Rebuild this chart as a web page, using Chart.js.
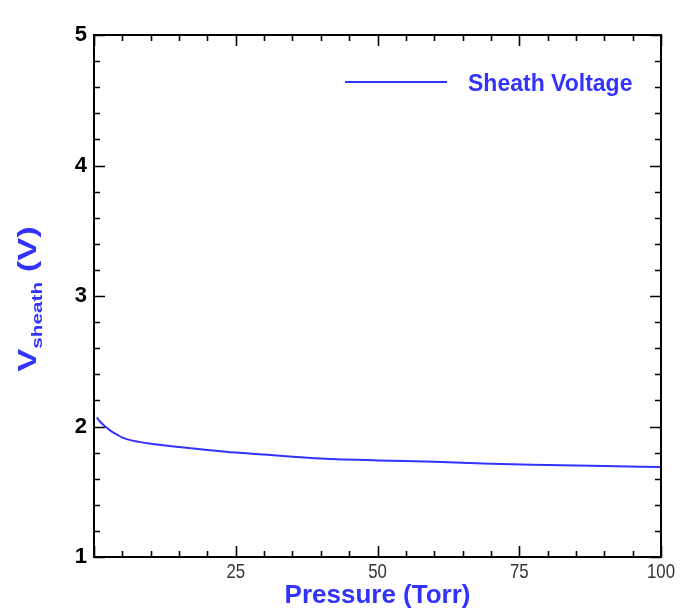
<!DOCTYPE html>
<html>
<head>
<meta charset="utf-8">
<script src="https://cdn.jsdelivr.net/npm/chart.js@4.4.1/dist/chart.umd.min.js"></script>
<style>
  html, body { margin: 0; padding: 0; background: #fff; }
  #wrap { width: 682px; height: 612px; }
</style>
</head>
<body>
<div id="wrap"><canvas id="c" width="682" height="612"></canvas></div>
<script>
// pressure (Torr) and sheath voltage (V)
const pressure = [0.5, 1, 2, 3, 4, 5, 7, 10, 15, 20, 25, 30, 35, 40, 50, 60, 70, 80, 90, 100];
const vSheath  = [2.07, 2.04, 2.0, 1.965, 1.94, 1.915, 1.89, 1.868, 1.843, 1.82, 1.80, 1.785, 1.768, 1.755, 1.74, 1.73, 1.714, 1.705, 1.697, 1.69];
const xTicks = [0, 25, 50, 75, 100];
const yTicks = [1, 2, 3, 4, 5];
const seriesName = 'Sheath Voltage';

const BLUE = '#3333ff';
const FONT = '"Liberation Sans", Arial, sans-serif';

// frame, inward ticks on all sides, narrow x labels, legend and axis titles
const decor = {
  id: 'decor',
  afterDraw(chart) {
    const ctx = chart.ctx;
    const a = chart.chartArea;
    const xs = chart.scales.x, ys = chart.scales.y;
    ctx.save();
    ctx.strokeStyle = '#000';
    ctx.lineWidth = 2;
    ctx.strokeRect(a.left, a.top, a.right - a.left, a.bottom - a.top);

    ctx.beginPath();
    for (let v = 0; v <= 100; v += 5) {
      const px = Math.round(xs.getPixelForValue(v)) + 0.5;
      const len = v % 25 === 0 ? 11 : 6;
      ctx.moveTo(px, a.bottom); ctx.lineTo(px, a.bottom - len);
      ctx.moveTo(px, a.top); ctx.lineTo(px, a.top + len);
    }
    for (let i = 0; i <= 20; i++) {
      const v = 1 + i * 0.2;
      const py = Math.round(ys.getPixelForValue(v)) + 0.5;
      const len = i % 5 === 0 ? 11 : 6;
      ctx.moveTo(a.left, py); ctx.lineTo(a.left + len, py);
      ctx.moveTo(a.right, py); ctx.lineTo(a.right - len, py);
    }
    ctx.lineWidth = 1.6;
    ctx.stroke();

    // x tick labels, condensed like the original
    ctx.fillStyle = '#333';
    ctx.font = '21px ' + FONT;
    ctx.textAlign = 'center';
    ctx.textBaseline = 'alphabetic';
    xTicks.filter(v => v !== 0).forEach(v => {
      ctx.save();
      ctx.translate(xs.getPixelForValue(v), 578);
      ctx.scale(0.8, 1);
      ctx.fillText(String(v), 0, 0);
      ctx.restore();
    });

    // legend
    ctx.strokeStyle = BLUE;
    ctx.lineWidth = 2;
    ctx.beginPath();
    ctx.moveTo(345, 82); ctx.lineTo(447, 82);
    ctx.stroke();
    ctx.fillStyle = BLUE;
    ctx.font = 'bold 23px ' + FONT;
    ctx.textAlign = 'left';
    ctx.fillText(seriesName, 468, 91);

    // x title
    ctx.font = 'bold 26px ' + FONT;
    ctx.textAlign = 'center';
    ctx.fillText('Pressure (Torr)', (a.left + a.right) / 2, 603);

    // y title with subscript (stretched along the text like the original)
    ctx.translate(36, 299);
    ctx.rotate(-Math.PI / 2);
    ctx.scale(1.38, 1);
    const big = 'bold 25px ' + FONT, small = 'bold 15px ' + FONT;
    ctx.font = big; const w1 = ctx.measureText('V').width;
    ctx.font = small; const w2 = ctx.measureText('sheath').width;
    ctx.font = big; const w3 = ctx.measureText(' (V)').width;
    let x0 = -(w1 + w2 + w3) / 2;
    ctx.textAlign = 'left';
    ctx.font = big; ctx.fillText('V', x0, 0); x0 += w1;
    ctx.font = small; ctx.fillText('sheath', x0, 6); x0 += w2;
    ctx.font = big; ctx.fillText(' (V)', x0, 0);
    ctx.restore();
  }
};

new Chart(document.getElementById('c'), {
  type: 'line',
  data: {
    datasets: [{
      label: seriesName,
      data: pressure.map((p, i) => ({ x: p, y: vSheath[i] })),
      borderColor: BLUE,
      borderWidth: 2,
      pointRadius: 0,
      cubicInterpolationMode: 'monotone',
      fill: false
    }]
  },
  options: {
    responsive: false,
    animation: false,
    layout: { padding: { top: 35, right: 21, left: 0, bottom: 0 } },
    plugins: { legend: { display: false }, tooltip: { enabled: false } },
    scales: {
      x: {
        type: 'linear', min: 0, max: 100,
        afterBuildTicks: s => { s.ticks = xTicks.map(v => ({ value: v })); },
        afterFit: s => { s.height = 55; },
        grid: { display: false, drawTicks: false },
        border: { display: false },
        ticks: { display: false }
      },
      y: {
        type: 'linear', min: 1, max: 5,
        afterBuildTicks: s => { s.ticks = yTicks.map(v => ({ value: v })); },
        afterFit: s => { s.width = 94; },
        grid: { display: false, drawTicks: false },
        border: { display: false },
        ticks: {
          padding: 7, color: '#000',
          font: { family: FONT, size: 22, weight: 'bold' }
        }
      }
    }
  },
  plugins: [decor]
});
</script>
</body>
</html>
